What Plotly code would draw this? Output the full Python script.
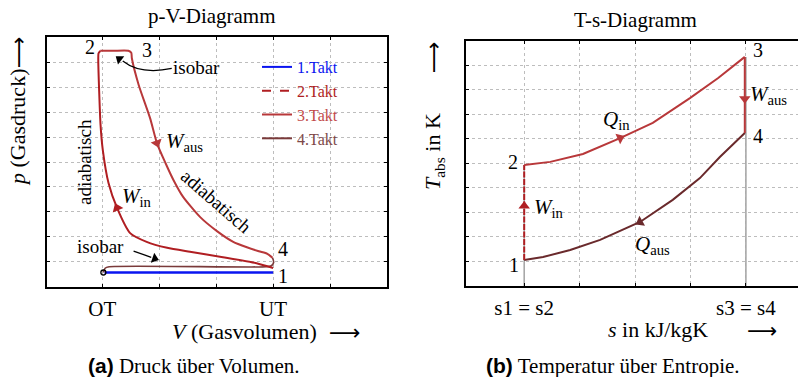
import math
import plotly.graph_objects as go

W, H = 798, 377
FONT = "Liberation Serif"

# ---------------- data: p-V diagram ----------------
takt1_V = [1.04, 4.0]
takt1_p = [0.57, 0.57]

takt2_V = [4.0, 3.71, 3.12, 2.54, 2.14, 1.78, 1.49, 1.26, 1.11, 1.01, 0.97, 0.93, 0.935, 0.965]
takt2_p = [0.75, 0.94, 1.18, 1.40, 1.56, 1.80, 2.15, 3.16, 4.16, 5.48, 6.5, 9.09, 9.36, 9.46]

takt3_V = [0.965, 1.2, 1.46, 1.51, 1.52, 1.64, 1.84, 1.96, 2.11, 2.25, 2.42, 2.72, 3.02, 3.3, 3.54, 3.75, 3.9, 3.99]
takt3_p = [9.46, 9.46, 9.46, 9.38, 9.16, 8.09, 6.76, 5.76, 4.96, 4.28, 3.60, 2.79, 2.22, 1.80, 1.58, 1.42, 1.32, 1.16]

takt4_V = [3.99, 4.01, 3.97, 3.88, 1.12, 1.05, 1.02]
takt4_p = [1.16, 0.98, 0.84, 0.80, 0.80, 0.74, 0.57]

ot_point_V = [1.02]
ot_point_p = [0.57]

pv_xticks = [1, 2, 3, 4, 5]
pv_xticktext = ["OT", "", "", "UT", ""]

# ---------------- data: T-s diagram ----------------
ts12_s = [1.0, 1.0]
ts12_T = [1.06, 4.93]

ts23_s = [1.0, 1.47, 2.06, 2.73, 3.32, 3.99, 4.50, 4.98]
ts23_T = [4.93, 5.06, 5.38, 6.03, 6.65, 7.66, 8.48, 9.34]

ts34_s = [4.98, 4.98]
ts34_T = [9.34, 6.24]

ts41_s = [4.98, 4.53, 4.17, 3.68, 3.09, 2.37, 1.83, 1.34, 1.0]
ts41_T = [6.24, 5.26, 4.40, 3.51, 2.61, 1.88, 1.47, 1.18, 1.06]

ts_gray_s = [1.0, 1.0, None, 5.0, 5.0]
ts_gray_T = [0.0, 4.93, None, 0.0, 9.34]

ts_xticks = [1, 2, 3, 4, 5]
ts_xticktext = ["s1 = s2", "", "", "", "s3 = s4"]

legend_names = ["1.Takt", "2.Takt", "3.Takt", "4.Takt"]

# ---------------- styles ----------------
C1 = "#0a14f0"
C2 = "#b01e22"
C3 = "#b8383a"
C4 = "#7a3a3a"
C4R = "#6a2a2c"
TXT2 = "#b01e22"
TXT3 = "#c24a4a"
TXT4 = "#7d4848"

PV_DOM_X = [47, 387]
PV_DOM_Y = [37.3, 286.7]
PV_RX = [0.03, 6.0]
TS_DOM_X = [466, 798]
TS_DOM_Y = [40.7, 286]
TS_RX = [-0.05, 5.94]
RY = [0, 10]


def X(p):
    return p / W


def Y(p):
    return 1 - p / H


def scales(dx, dy, rx):
    return (dx[1] - dx[0]) / (rx[1] - rx[0]), (dy[1] - dy[0]) / (RY[1] - RY[0])


PV_S = scales(PV_DOM_X, PV_DOM_Y, PV_RX)
TS_S = scales(TS_DOM_X, TS_DOM_Y, TS_RX)


def head_on(xs, ys, i, t, sc):
    """arrow head on segment i of a curve, pointing along the curve"""
    x = xs[i] + t * (xs[i + 1] - xs[i]) if t > 0 else xs[i]
    y = ys[i] + t * (ys[i + 1] - ys[i]) if t > 0 else ys[i]
    a, b = (i, i + 1) if t > 0 else (i - 1, i + 1)
    dxp = (xs[b] - xs[a]) * sc[0]
    dyp = (ys[b] - ys[a]) * sc[1]
    return x, y, math.degrees(math.atan2(dxp, dyp))


fig = go.Figure()

# p-V traces
fig.add_trace(go.Scatter(x=takt1_V, y=takt1_p, mode="lines", line=dict(color=C1, width=2.6),
                         showlegend=False, xaxis="x", yaxis="y"))
fig.add_trace(go.Scatter(x=takt4_V, y=takt4_p, mode="lines", line=dict(color=C4, width=1.6, shape="spline", smoothing=0.6),
                         showlegend=False, xaxis="x", yaxis="y"))
fig.add_trace(go.Scatter(x=takt2_V, y=takt2_p, mode="lines", line=dict(color=C2, width=2, shape="spline", smoothing=0.6),
                         showlegend=False, xaxis="x", yaxis="y"))
fig.add_trace(go.Scatter(x=takt3_V, y=takt3_p, mode="lines", line=dict(color=C3, width=2, shape="spline", smoothing=0.6),
                         showlegend=False, xaxis="x", yaxis="y"))
fig.add_trace(go.Scatter(x=ot_point_V, y=ot_point_p, mode="markers",
                         marker=dict(symbol="circle-open", size=5, color="black", line=dict(width=1.3)),
                         showlegend=False, xaxis="x", yaxis="y"))

# legend entries
leg_colors = [C1, C2, C3, C4]
leg_txt = [C1, TXT2, TXT3, TXT4]
leg_dash = ["solid", "dash", "solid", "solid"]
for n, c, tc, d in zip(legend_names, leg_colors, leg_txt, leg_dash):
    fig.add_trace(go.Scatter(x=[None], y=[None], mode="lines", line=dict(color=c, width=2, dash=d),
                             name='<span style="color:%s">%s</span>' % (tc, n), xaxis="x", yaxis="y"))

# T-s traces
fig.add_trace(go.Scatter(x=ts_gray_s, y=ts_gray_T, mode="lines", line=dict(color="#a8a8a8", width=1.6),
                         showlegend=False, xaxis="x2", yaxis="y2"))
fig.add_trace(go.Scatter(x=ts41_s, y=ts41_T, mode="lines", line=dict(color=C4R, width=2),
                         showlegend=False, xaxis="x2", yaxis="y2"))
fig.add_trace(go.Scatter(x=ts12_s, y=ts12_T, mode="lines", line=dict(color=C2, width=2, dash="6px,1.5px"),
                         showlegend=False, xaxis="x2", yaxis="y2"))
fig.add_trace(go.Scatter(x=ts23_s, y=ts23_T, mode="lines", line=dict(color=C3, width=2),
                         showlegend=False, xaxis="x2", yaxis="y2"))
fig.add_trace(go.Scatter(x=ts34_s, y=ts34_T, mode="lines", line=dict(color=C3, width=2),
                         showlegend=False, xaxis="x2", yaxis="y2"))

# direction arrow heads on the curves
heads = [
    (takt3_V, takt3_p, 7, 0, PV_S, C3, "x", "y"),
    (takt2_V, takt2_p, 7, 0, PV_S, C2, "x", "y"),
    (ts12_s, ts12_T, 0, 0.57, TS_S, C2, "x2", "y2"),
    (ts34_s, ts34_T, 0, 0.55, TS_S, C3, "x2", "y2"),
    (ts23_s, ts23_T, 3, 0, TS_S, C3, "x2", "y2"),
    (ts41_s, ts41_T, 4, 0, TS_S, C4R, "x2", "y2"),
]
for xs, ys, i, t, sc, col, xa, ya in heads:
    hx, hy, ang = head_on(xs, ys, i, t, sc)
    fig.add_trace(go.Scatter(x=[hx], y=[hy], mode="markers", showlegend=False, xaxis=xa, yaxis=ya,
                             marker=dict(symbol="triangle-up", size=10, color=col, angle=ang,
                                         line=dict(width=0))))

# "isobar" pointers (black)
fig.add_shape(type="path", path="M 2.22 8.75 Q 1.67 8.49 1.36 9.05", xref="x", yref="y",
              line=dict(color="black", width=1.3))
fig.add_shape(type="line", x0=1.55, y0=1.43, x1=1.86, y1=1.18, xref="x", yref="y",
              line=dict(color="black", width=1.3))
ptr_x = [1.30, 1.92]
ptr_y = [9.13, 1.13]
ptr_ang = [math.degrees(math.atan2((1.30 - 1.67) * PV_S[0], (9.13 - 8.49) * PV_S[1])),
           math.degrees(math.atan2((1.86 - 1.55) * PV_S[0], (1.18 - 1.43) * PV_S[1]))]
fig.add_trace(go.Scatter(x=ptr_x, y=ptr_y, mode="markers", showlegend=False, xaxis="x", yaxis="y",
                         marker=dict(symbol="triangle-up", size=9, color="black", angle=ptr_ang,
                                     line=dict(width=0))))

grid = dict(showgrid=True, gridcolor="#bdbdbd", griddash="dot", gridwidth=1, zeroline=False,
            showline=True, linecolor="black", linewidth=1.6, ticks="inside", ticklen=3,
            tickcolor="black", tickfont=dict(family=FONT, size=21, color="black"))

fig.update_layout(
    width=W, height=H, margin=dict(l=0, r=0, t=0, b=0),
    paper_bgcolor="white", plot_bgcolor="white",
    font=dict(family=FONT, size=20, color="black"),
    showlegend=True,
    legend=dict(x=X(257), y=Y(50), xanchor="left", yanchor="top", bgcolor="rgba(0,0,0,0)",
                font=dict(family=FONT, size=16), tracegroupgap=0, itemwidth=30),
    xaxis=dict(domain=[X(PV_DOM_X[0]), X(PV_DOM_X[1])], range=PV_RX, tickvals=pv_xticks, ticktext=pv_xticktext,
               mirror="ticks", anchor="y", ticklabelstandoff=2, **grid),
    yaxis=dict(domain=[Y(PV_DOM_Y[1]), Y(PV_DOM_Y[0])], range=RY, tickvals=list(range(1, 10)), ticktext=[""] * 9,
               mirror="ticks", anchor="x", **grid),
    xaxis2=dict(domain=[X(TS_DOM_X[0]), 1.0], range=TS_RX, tickvals=ts_xticks, ticktext=ts_xticktext,
                mirror="ticks", anchor="y2", ticklabelstandoff=2, **grid),
    yaxis2=dict(domain=[Y(TS_DOM_Y[1]), Y(TS_DOM_Y[0])], range=RY, tickvals=list(range(1, 10)), ticktext=[""] * 9,
                mirror=False, anchor="x2", **grid),
)

ann = []


def txt(text, x, y, xref="paper", yref="paper", size=20, angle=0, color="black", family=FONT):
    ann.append(dict(text=text, x=x, y=y, xref=xref, yref=yref, showarrow=False, textangle=angle,
                    xanchor="center", yanchor="middle",
                    font=dict(family=family, size=size, color=color)))


ARROW_FONT = "DejaVu Sans"

# titles
txt("p-V-Diagramm", X(212), Y(16), size=21)
txt("T-s-Diagramm", X(635), Y(20), size=21)

# axis titles with arrows
txt("<i>p</i> (Gasdruck)", X(18), Y(128), angle=-90, size=22)
txt("⟶", X(18), Y(52), angle=-90, size=22, family=ARROW_FONT)
txt("<i>V</i> (Gasvolumen)", X(244), Y(331), size=22)
txt("⟶", X(345), Y(332), size=22, family=ARROW_FONT)
txt("<i>T</i><sub>abs</sub> in K", X(434), Y(152), angle=-90, size=22)
txt("⟶", X(434), Y(57), angle=-90, size=22, family=ARROW_FONT)
txt("<i>s</i> in kJ/kgK", X(658), Y(329), size=22)
txt("⟶", X(762), Y(331), size=21, family=ARROW_FONT)

# captions
txt('<span style="font-family:Liberation Sans"><b>(a)</b></span> Druck über Volumen.', X(194), Y(366), size=21)
txt('<span style="font-family:Liberation Sans"><b>(b)</b></span> Temperatur über Entropie.', X(613), Y(366), size=21)

# p-V labels (data coords)
txt("2", 0.79, 9.61, "x", "y", size=20)
txt("3", 1.79, 9.49, "x", "y", size=20)
txt("isobar", 2.65, 8.77, "x", "y", size=19)
txt("<i>W</i><sub>aus</sub>", 2.44, 5.80, "x", "y", size=21)
txt("<i>W</i><sub>in</sub>", 1.61, 3.60, "x", "y", size=21)
txt("adiabatisch", 0.68, 5.0, "x", "y", size=19, angle=-90)
txt("adiabatisch", 3.0, 3.40, "x", "y", size=19, angle=41)
txt("isobar", 0.965, 1.63, "x", "y", size=19)
txt("4", 4.18, 1.51, "x", "y", size=20)
txt("1", 4.18, 0.43, "x", "y", size=20)

# T-s labels
txt("3", 5.22, 9.62, "x2", "y2", size=20)
txt("<i>W</i><sub>aus</sub>", 5.41, 7.79, "x2", "y2", size=21)
txt("4", 5.22, 6.11, "x2", "y2", size=20)
txt("<i>Q</i><sub>in</sub>", 2.66, 6.77, "x2", "y2", size=21)
txt("2", 0.80, 5.05, "x2", "y2", size=20)
txt("<i>W</i><sub>in</sub>", 1.45, 3.18, "x2", "y2", size=21)
txt("<i>Q</i><sub>aus</sub>", 3.31, 1.67, "x2", "y2", size=21)
txt("1", 0.82, 0.86, "x2", "y2", size=20)

fig.update_layout(annotations=ann)

fig.write_html("out.html", config={"displayModeBar": False},
               post_script="document.body.style.margin='0';document.body.style.overflow='hidden';")
